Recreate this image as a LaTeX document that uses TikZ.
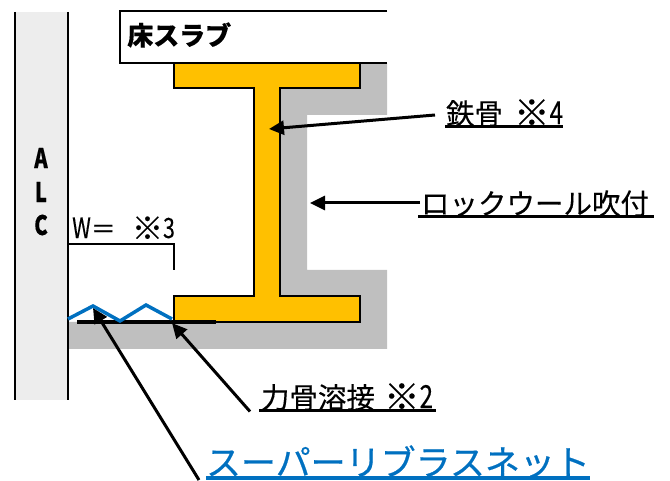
\documentclass[tikz,border=0pt]{standalone}
\usepackage{fontspec}
\setmainfont{Noto Sans CJK JP}[FakeStretch=1,FakeBold=0.25]
\setsansfont{Noto Sans CJK JP}
\newfontfamily\netfont{Noto Sans CJK JP}[FakeBold=0.6]
\usetikzlibrary{arrows.meta}
\definecolor{steel}{HTML}{FFC000}
\definecolor{rock}{HTML}{BFBFBF}
\definecolor{alc}{HTML}{EDEDED}
\definecolor{netblue}{HTML}{0070C0}
\newcommand{\hw}[1]{\scalebox{0.85}[1.12]{#1}}
\newcommand{\kome}{\raisebox{-1.5pt}{\scalebox{1.25}{※}}}
\tikzset{
  x=1pt,y=-1pt,
  edge/.style={line width=2.6pt,black},
  thinedge/.style={line width=2pt,black},
  leader/.style={line width=3pt,black,-{Triangle[length=15pt,width=14pt]}},
  lab/.style={inner sep=0pt,outer sep=0pt,anchor=south west,align=left,font=\fontsize{28.5}{30}\selectfont},
  uline/.style={line width=3.2pt,line cap=butt},
  alcletter/.style={inner sep=0pt,font=\fontsize{24}{24}\selectfont\bfseries},
}
\begin{document}
\begin{tikzpicture}
\useasboundingbox (0,0) rectangle (670,481);
% rock wool
\fill[rock] (360,63) -- (387,63) -- (387,115) -- (307,115) -- (307,270) -- (387,270) -- (387,349) -- (68,349) -- (68,322) -- (360,322) -- (360,296) -- (280,296) -- (280,88) -- (360,88) -- cycle;
% ALC wall
\fill[alc] (15,12) rectangle (68,400);
\draw[edge] (15,12) -- (15,400);
\draw[edge] (68,12) -- (68,400);
\node[alcletter] (alcA) at (41,158) {\hw{A}};
\node[alcletter] (alcL) at (41,192) {\hw{L}};
\node[alcletter] (alcC) at (41,225) {\hw{C}};
% slab
\draw[edge] (387,11) -- (120,11) -- (120,63) -- (387,63);
\node[inner sep=0pt,anchor=west,font=\fontsize{26}{26}\selectfont\bfseries] (slab) at (127,35) {床スラブ};
% steel section
\draw[edge,fill=steel] (174,63) -- (360,63) -- (360,88) -- (280,88) -- (280,296) -- (360,296) -- (360,322) -- (174,322) -- (174,296) -- (254,296) -- (254,88) -- (174,88) -- cycle;
% width mark
\node[inner sep=0pt,anchor=west,font=\fontsize{25}{25}\selectfont] (wlab) at (72,228) {\hw{W}＝\hspace{16pt}\kome\hw{3}};
\draw[thinedge] (68,244) -- (174,244) -- (174,270);
% weld plate & net
\draw[line width=4.5pt] (77,322) -- (216,322);
\draw[netblue,line width=3.5pt,line join=miter] (68,319) -- (93,306) -- (120,321) -- (146,305) -- (172,319);
% labels
\node[lab,minimum width=118pt,text width=118pt] (steel) at (445,126.5) {\mbox{\hspace{1pt}鉄骨\hspace{11pt}\kome\hw{4}}};
\draw[uline] (steel.south west) -- (steel.south east);
\node[lab,minimum width=236pt,text width=236pt] (wool) at (418,216.5) {\mbox{\hspace{3pt}ロックウール吹付}};
\draw[uline] (wool.south west) -- (wool.south east);
\node[lab,minimum width=177pt,text width=177pt] (weld) at (259,410.5) {\mbox{\hspace{2pt}力骨溶接\hspace{9pt}\kome\hw{2}}};
\draw[uline] (weld.south west) -- (weld.south east);
\node[lab,minimum width=384pt,text width=384pt,text=netblue,font=\fontsize{35}{36}\selectfont\netfont] (net) at (206,478) {\mbox{スーパーリブラスネット}};
\draw[uline,netblue] (net.south west) -- (net.south east);
% leaders
\coordinate (steelEnd) at (435,115);
\coordinate (steelTip) at (269,129);
\coordinate (woolEnd) at (420,203);
\coordinate (woolTip) at (310,203);
\coordinate (weldTip) at (172,323);
\coordinate (netTip) at (93,308);
\draw[leader] (steelEnd) -- (steelTip);
\draw[leader] (woolEnd) -- (woolTip);
\draw[leader] (weld.south west) ++(-9,1) -- (weldTip);
\draw[leader] (net.south west) ++(-7,2) -- (netTip);
\end{tikzpicture}
\end{document}
